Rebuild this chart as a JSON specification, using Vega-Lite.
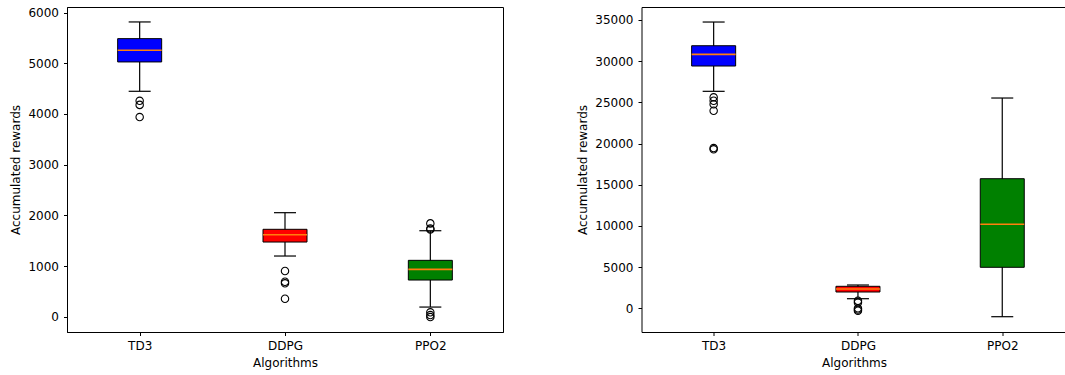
{
  "$schema": "https://vega.github.io/schema/vega-lite/v6.json",
  "padding": {"left": 8, "top": 6, "right": 0, "bottom": 2},
  "background": "white",
  "spacing": 71.5,
  "config": {
    "font": "DejaVu Sans",
    "view": {"stroke": "black", "strokeWidth": 1},
    "axis": {"labelFontSize": 12, "titleFontSize": 12, "titleFontWeight": "normal", "labelColor": "black", "titleColor": "black", "tickColor": "black", "domainColor": "black", "grid": false, "tickSize": 3.5, "labelPadding": 5, "labelFont": "DejaVu Sans", "titleFont": "DejaVu Sans"},
    "axisX": {"labelAngle": 0, "titlePadding": 6, "labelPadding": 5},
    "axisY": {"titlePadding": 5.5}
  },
  "datasets": {
    "left_stats": [
      {"algo": "TD3", "lower": 4448, "q1": 5027, "median": 5257, "q3": 5487, "upper": 5816},
      {"algo": "DDPG", "lower": 1198, "q1": 1474, "median": 1618, "q3": 1725, "upper": 2053},
      {"algo": "PPO2", "lower": 191, "q1": 724, "median": 935, "q3": 1113, "upper": 1697}
    ],
    "left_out": [
      {"algo": "TD3", "value": 4260},
      {"algo": "TD3", "value": 4180},
      {"algo": "TD3", "value": 3940},
      {"algo": "DDPG", "value": 902},
      {"algo": "DDPG", "value": 691},
      {"algo": "DDPG", "value": 659},
      {"algo": "DDPG", "value": 355},
      {"algo": "PPO2", "value": 1842},
      {"algo": "PPO2", "value": 1743},
      {"algo": "PPO2", "value": 1720},
      {"algo": "PPO2", "value": 87},
      {"algo": "PPO2", "value": 33},
      {"algo": "PPO2", "value": -6}
    ],
    "right_stats": [
      {"algo": "TD3", "lower": 26341, "q1": 29412, "median": 30832, "q3": 31877, "upper": 34754},
      {"algo": "DDPG", "lower": 1165, "q1": 1979, "median": 2343, "q3": 2670, "upper": 2828},
      {"algo": "PPO2", "lower": -1020, "q1": 4977, "median": 10197, "q3": 15732, "upper": 25528}
    ],
    "right_out": [
      {"algo": "TD3", "value": 25613},
      {"algo": "TD3", "value": 25200},
      {"algo": "TD3", "value": 24763},
      {"algo": "TD3", "value": 23986},
      {"algo": "TD3", "value": 19450},
      {"algo": "TD3", "value": 19300},
      {"algo": "DDPG", "value": 920},
      {"algo": "DDPG", "value": 700},
      {"algo": "DDPG", "value": 0},
      {"algo": "DDPG", "value": -150},
      {"algo": "DDPG", "value": -290}
    ]
  },
  "hconcat": [
    {
      "width": 436,
      "height": 325,
      "layer": [
        {
          "data": {"name": "left_stats"},
          "mark": {"type": "rule", "color": "black", "strokeWidth": 1.2},
          "encoding": {
            "x": {"field": "algo", "type": "nominal", "sort": ["TD3", "DDPG", "PPO2"], "scale": {"type": "point", "padding": 0.5}, "axis": {"title": "Algorithms"}},
            "y": {"field": "lower", "type": "quantitative", "scale": {"domain": [-301, 6111], "nice": false, "zero": false}, "axis": {"title": "Accumulated rewards", "values": [0, 1000, 2000, 3000, 4000, 5000, 6000], "format": "d"}},
            "y2": {"field": "upper"}
          }
        },
        {
          "data": {"name": "left_stats"},
          "mark": {"type": "bar", "width": 44, "stroke": "black", "strokeWidth": 1},
          "encoding": {
            "x": {"field": "algo", "type": "nominal", "sort": ["TD3", "DDPG", "PPO2"]},
            "y": {"field": "q1", "type": "quantitative"},
            "y2": {"field": "q3"},
            "fill": {"field": "algo", "type": "nominal", "scale": {"domain": ["TD3", "DDPG", "PPO2"], "range": ["#0000ff", "#ff0000", "#008000"]}, "legend": null}
          }
        },
        {
          "data": {"name": "left_stats"},
          "mark": {"type": "tick", "color": "#ff7f0e", "size": 44, "thickness": 1.6, "opacity": 1},
          "encoding": {
            "x": {"field": "algo", "type": "nominal", "sort": ["TD3", "DDPG", "PPO2"]},
            "y": {"field": "median", "type": "quantitative"}
          }
        },
        {
          "data": {"name": "left_stats"},
          "mark": {"type": "tick", "color": "black", "size": 22, "thickness": 1.2, "opacity": 1},
          "encoding": {
            "x": {"field": "algo", "type": "nominal", "sort": ["TD3", "DDPG", "PPO2"]},
            "y": {"field": "lower", "type": "quantitative"}
          }
        },
        {
          "data": {"name": "left_stats"},
          "mark": {"type": "tick", "color": "black", "size": 22, "thickness": 1.2, "opacity": 1},
          "encoding": {
            "x": {"field": "algo", "type": "nominal", "sort": ["TD3", "DDPG", "PPO2"]},
            "y": {"field": "upper", "type": "quantitative"}
          }
        },
        {
          "data": {"name": "left_out"},
          "mark": {"type": "point", "shape": "circle", "filled": false, "stroke": "black", "strokeWidth": 1.1, "size": 55, "opacity": 1},
          "encoding": {
            "x": {"field": "algo", "type": "nominal", "sort": ["TD3", "DDPG", "PPO2"]},
            "y": {"field": "value", "type": "quantitative"}
          }
        }
      ]
    },
    {
      "width": 425,
      "height": 325,
      "view": {"stroke": null},
      "resolve": {"axis": {"x": "independent"}},
      "layer": [
        {
          "data": {"name": "right_stats"},
          "mark": {"type": "rule", "color": "black", "strokeWidth": 1.2},
          "encoding": {
            "x": {"field": "algo", "type": "nominal", "sort": ["TD3", "DDPG", "PPO2"], "scale": {"type": "point", "padding": 0.4726, "align": 0.529}, "axis": {"title": "Algorithms", "orient": "bottom"}},
            "y": {"field": "lower", "type": "quantitative", "scale": {"domain": [-2877, 36578], "nice": false, "zero": false}, "axis": {"title": "Accumulated rewards", "values": [0, 5000, 10000, 15000, 20000, 25000, 30000, 35000], "format": "d"}},
            "y2": {"field": "upper"}
          }
        },
        {
          "data": {"name": "right_stats"},
          "mark": {"type": "bar", "width": 44, "stroke": "black", "strokeWidth": 1},
          "encoding": {
            "x": {"field": "algo", "type": "nominal", "sort": ["TD3", "DDPG", "PPO2"], "axis": {"orient": "top", "labels": false, "ticks": false, "title": null, "domain": true}},
            "y": {"field": "q1", "type": "quantitative"},
            "y2": {"field": "q3"},
            "fill": {"field": "algo", "type": "nominal", "scale": {"domain": ["TD3", "DDPG", "PPO2"], "range": ["#0000ff", "#ff0000", "#008000"]}, "legend": null}
          }
        },
        {
          "data": {"name": "right_stats"},
          "mark": {"type": "tick", "color": "#ff7f0e", "size": 44, "thickness": 1.6, "opacity": 1},
          "encoding": {
            "x": {"field": "algo", "type": "nominal", "sort": ["TD3", "DDPG", "PPO2"], "axis": null},
            "y": {"field": "median", "type": "quantitative"}
          }
        },
        {
          "data": {"name": "right_stats"},
          "mark": {"type": "tick", "color": "black", "size": 22, "thickness": 1.2, "opacity": 1},
          "encoding": {
            "x": {"field": "algo", "type": "nominal", "sort": ["TD3", "DDPG", "PPO2"], "axis": null},
            "y": {"field": "lower", "type": "quantitative"}
          }
        },
        {
          "data": {"name": "right_stats"},
          "mark": {"type": "tick", "color": "black", "size": 22, "thickness": 1.2, "opacity": 1},
          "encoding": {
            "x": {"field": "algo", "type": "nominal", "sort": ["TD3", "DDPG", "PPO2"], "axis": null},
            "y": {"field": "upper", "type": "quantitative"}
          }
        },
        {
          "data": {"name": "right_out"},
          "mark": {"type": "point", "shape": "circle", "filled": false, "stroke": "black", "strokeWidth": 1.1, "size": 55, "opacity": 1},
          "encoding": {
            "x": {"field": "algo", "type": "nominal", "sort": ["TD3", "DDPG", "PPO2"], "axis": null},
            "y": {"field": "value", "type": "quantitative"}
          }
        }
      ]
    }
  ]
}
